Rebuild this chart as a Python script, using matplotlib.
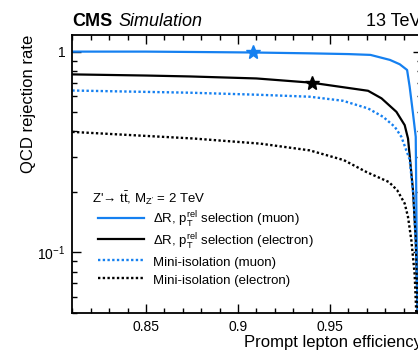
import matplotlib
matplotlib.use("Agg")
import matplotlib.pyplot as plt
from matplotlib.ticker import FixedLocator, FixedFormatter, MultipleLocator, LogLocator, NullFormatter, FuncFormatter

plt.rcParams["font.family"] = ["Liberation Sans", "DejaVu Sans"]
plt.rcParams["mathtext.fontset"] = "custom"
plt.rcParams["mathtext.rm"] = "Liberation Sans"
plt.rcParams["mathtext.it"] = "Liberation Sans:italic"
plt.rcParams["mathtext.bf"] = "Liberation Sans:bold"

# curves: prompt lepton efficiency vs QCD rejection rate
mu_dr_eff = [0.81, 0.85, 0.88, 0.908, 0.94, 0.96, 0.972, 0.9826, 0.9879, 0.9919, 0.9933, 0.9951, 0.9966, 0.9972, 0.998]
mu_dr_rej = [1.0, 1.0, 0.995, 0.99, 0.98, 0.972, 0.963, 0.909, 0.865, 0.81, 0.668, 0.492, 0.376, 0.095, 0.04]

el_dr_eff = [0.81, 0.85, 0.874, 0.91, 0.94, 0.9707, 0.978, 0.9861, 0.9906, 0.9924, 0.9951, 0.9966, 0.998]
el_dr_rej = [0.77, 0.76, 0.752, 0.735, 0.70, 0.638, 0.585, 0.501, 0.43, 0.369, 0.204, 0.115, 0.04]

mu_iso_eff = [0.81, 0.874, 0.91, 0.939, 0.957, 0.9707, 0.9789, 0.9852, 0.9888, 0.9933, 0.9955, 0.9968, 0.998]
mu_iso_rej = [0.64, 0.624, 0.61, 0.596, 0.569, 0.521, 0.473, 0.422, 0.376, 0.29, 0.185, 0.10, 0.04]

el_iso_eff = [0.81, 0.8758, 0.912, 0.939, 0.9575, 0.9699, 0.982, 0.9865, 0.9906, 0.9924, 0.9942, 0.996, 0.9969, 0.998]
el_iso_rej = [0.398, 0.369, 0.348, 0.322, 0.288, 0.251, 0.224, 0.204, 0.175, 0.15, 0.115, 0.078, 0.05, 0.04]

# working points (stars)
mu_wp = (0.9084, 0.99)
el_wp = (0.940, 0.70)

labels = [r"$\Delta$R, p$_{\mathrm{T}}^{\mathrm{rel}}$ selection (muon)",
          r"$\Delta$R, p$_{\mathrm{T}}^{\mathrm{rel}}$ selection (electron)",
          "Mini-isolation (muon)",
          "Mini-isolation (electron)"]

blue = "#1580f0"

fig = plt.figure(figsize=(4.18, 3.51), dpi=100)
ax = fig.add_axes([72.3 / 418, 1 - 312.7 / 351, (422 - 72.3) / 418, (312.7 - 35) / 351])

l1, = ax.plot(mu_dr_eff, mu_dr_rej, color=blue, lw=1.6)
l2, = ax.plot(el_dr_eff, el_dr_rej, color="black", lw=1.6)
l3, = ax.plot(mu_iso_eff, mu_iso_rej, color=blue, lw=1.7, linestyle=(0, (1, 1)))
l4, = ax.plot(el_iso_eff, el_iso_rej, color="black", lw=1.7, linestyle=(0, (1, 1)))
ax.plot([mu_wp[0]], [mu_wp[1]], marker="*", color=blue, markersize=10)
ax.plot([el_wp[0]], [el_wp[1]], marker="*", color="black", markersize=10)

ax.set_yscale("log")
ax.set_xlim(0.81, 1.0)
ax.set_ylim(0.05, 1.21)


def xfmt(v, pos):
    if v > 0.995:
        return ""
    return "%g" % round(v, 3)


ax.xaxis.set_major_locator(MultipleLocator(0.05))
ax.xaxis.set_minor_locator(MultipleLocator(0.01))
ax.xaxis.set_major_formatter(FuncFormatter(xfmt))
ax.yaxis.set_major_locator(FixedLocator([0.1, 1.0]))
ax.yaxis.set_major_formatter(FixedFormatter([r"10$^{-1}$", "1"]))
ax.yaxis.set_minor_locator(LogLocator(base=10, subs=[2, 3, 4, 5, 6, 7, 8, 9]))
ax.yaxis.set_minor_formatter(NullFormatter())

ax.tick_params(which="both", direction="in", top=True, right=True, labelsize=10, pad=5)
ax.tick_params(which="major", length=6.5, width=1)
ax.tick_params(which="minor", length=3.6, width=1)
for s in ax.spines.values():
    s.set_linewidth(1.3)

ax.set_xlabel("Prompt lepton efficiency", fontsize=12, loc="right")
ax.xaxis.set_label_coords(1.0, -0.08)
ax.set_ylabel("QCD rejection rate", fontsize=12, loc="top")
ax.yaxis.set_label_coords(-0.104, 1.0)

ax.text(0.0556, 0.394, r"Z'→ t$\bar{\mathrm{t}}$, M$_{\mathrm{Z'}}$ = 2 TeV",
        transform=ax.transAxes, fontsize=9.5, va="baseline", ha="left")
ax.legend([l1, l2, l3, l4], labels, loc="upper left", bbox_to_anchor=(0.0735, 0.37),
          frameon=False, fontsize=9.5, handlelength=3.5, handletextpad=0.65,
          handleheight=1.55, labelspacing=0.12, borderpad=0, borderaxespad=0)

fig.text(72.7 / 418, 1 - 26 / 351, "CMS", fontsize=13, fontweight="bold", va="baseline")
fig.text(118.3 / 418, 1 - 26 / 351, "Simulation", fontsize=13, style="italic", va="baseline")
fig.text(422 / 418, 1 - 26 / 351, "13 TeV", fontsize=13, ha="right", va="baseline")

fig.savefig("out.png", dpi=100)
